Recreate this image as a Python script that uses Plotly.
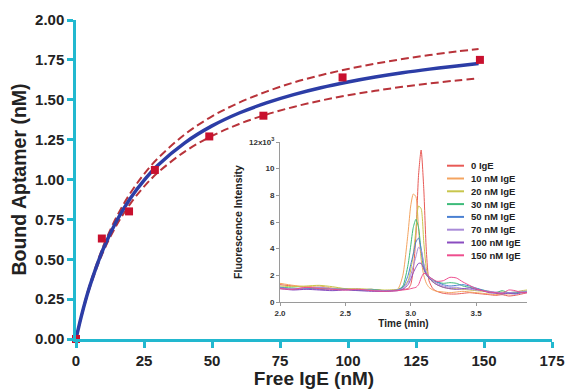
import plotly.graph_objects as go

# ---------------- main binding data ----------------
free_ige = [0, 9.5, 19.5, 29.0, 49.0, 68.9, 98.0, 148.5]
bound_aptamer = [0.0, 0.63, 0.80, 1.06, 1.27, 1.40, 1.64, 1.75]

fit_x = [0, 2, 5, 10, 15, 20, 25, 30, 40, 50, 60, 70, 80, 90, 100, 110, 120, 130, 140, 148]
fit_y = [0, 0.145, 0.327, 0.564, 0.743, 0.883, 0.995, 1.088, 1.230, 1.336, 1.417, 1.480,
         1.532, 1.575, 1.611, 1.642, 1.669, 1.692, 1.712, 1.727]
upper_y = [0, 0.148, 0.336, 0.581, 0.768, 0.915, 1.034, 1.131, 1.283, 1.396, 1.482, 1.551,
           1.608, 1.654, 1.693, 1.726, 1.755, 1.780, 1.803, 1.818]
lower_y = [0, 0.141, 0.318, 0.546, 0.716, 0.849, 0.955, 1.042, 1.175, 1.273, 1.348, 1.407,
           1.455, 1.495, 1.528, 1.556, 1.581, 1.602, 1.621, 1.634]

x_ticks = [0, 25, 50, 75, 100, 125, 150, 175]
y_ticks = [0, 0.25, 0.5, 0.75, 1.0, 1.25, 1.5, 1.75, 2.0]

# ---------------- inset chromatogram data ----------------
time_min = [2.0, 2.1, 2.2, 2.3, 2.4, 2.5, 2.6, 2.7, 2.8, 2.9, 2.94, 2.98, 3.0, 3.02, 3.04,
            3.06, 3.08, 3.1, 3.12, 3.14, 3.17, 3.2, 3.25, 3.3, 3.35, 3.4, 3.45, 3.5, 3.55,
            3.6, 3.65, 3.7, 3.75, 3.8, 3.85, 3.89]

series_names = ["0 IgE", "10 nM IgE", "20 nM IgE", "30 nM IgE", "50 nM IgE",
                "70 nM IgE", "100 nM IgE", "150 nM IgE"]
series_colors = ["#E85A56", "#F4A460", "#C8C64C", "#3DBB7A", "#4A80D2",
                 "#A98BD8", "#8A4CC0", "#EE4E8E"]

ige_0 = [1.3, 1.2, 1.1, 1.05, 1.0, 0.95, 0.9, 0.95, 0.85, 0.9, 0.95, 1.0, 1.3, 2.4, 5.0,
         9.5, 11.4, 8.5, 3.8, 1.6, 1.0, 0.8, 0.65, 0.6, 0.6, 0.65, 0.7, 0.65, 0.6,
         0.55, 0.5, 0.55, 0.45, 0.5, 0.6, 0.7]
ige_10 = [1.4, 1.25, 1.15, 1.2, 1.05, 1.0, 0.95, 0.9, 0.85, 0.95, 2.0, 5.2, 7.2, 8.1, 7.9,
          5.5, 3.2, 2.0, 1.4, 1.1, 0.9, 0.8, 0.75, 0.7, 0.75, 0.8, 0.75, 0.7, 0.65,
          0.6, 0.55, 0.6, 0.6, 0.65, 0.75, 0.8]
ige_20 = [1.2, 1.15, 1.2, 1.25, 1.15, 1.0, 1.0, 0.95, 0.9, 0.95, 1.1, 1.6, 2.4, 3.6, 5.4,
          7.2, 7.0, 4.5, 2.5, 1.8, 1.5, 1.3, 1.1, 1.0, 1.0, 0.95, 0.9, 0.85, 0.8,
          0.75, 0.7, 0.75, 0.7, 0.75, 0.85, 0.9]
ige_30 = [1.1, 1.05, 1.0, 1.05, 1.0, 0.95, 0.9, 0.95, 0.85, 0.9, 1.2, 2.8, 4.2, 5.6, 6.2,
          5.6, 3.8, 2.5, 2.0, 1.8, 1.6, 1.5, 1.4, 1.45, 1.4, 1.2, 1.1, 1.0, 0.9,
          0.8, 0.7, 0.85, 0.7, 0.7, 0.75, 0.8]
ige_50 = [1.1, 0.95, 1.0, 0.95, 0.9, 0.95, 0.9, 0.85, 0.8, 0.9, 1.1, 2.0, 2.8, 3.6, 4.5,
          4.8, 4.0, 2.8, 2.1, 1.9, 1.7, 1.5, 1.3, 1.2, 1.25, 1.3, 1.2, 1.05, 0.9,
          0.75, 0.7, 0.65, 0.7, 0.65, 0.7, 0.75]
ige_70 = [1.05, 1.0, 1.05, 1.1, 1.0, 0.95, 0.95, 0.9, 0.85, 0.9, 1.0, 1.5, 2.0, 2.7, 3.4,
          4.1, 3.9, 2.9, 2.2, 1.9, 1.6, 1.4, 1.2, 1.1, 1.1, 1.0, 0.95, 0.9, 0.85,
          0.8, 0.75, 0.7, 0.7, 0.75, 0.8, 0.8]
ige_100 = [1.0, 0.9, 0.95, 0.9, 0.85, 0.9, 0.85, 0.8, 0.8, 0.85, 0.95, 1.3, 1.7, 2.2, 2.6,
           2.9, 2.9, 2.5, 2.1, 1.8, 1.5, 1.3, 1.1, 1.0, 0.95, 1.0, 1.05, 0.95, 0.85,
           0.7, 0.65, 0.6, 0.65, 0.6, 0.7, 0.7]
ige_150 = [1.0, 0.95, 1.1, 1.0, 0.95, 0.9, 0.95, 0.85, 0.8, 0.85, 0.9, 0.95, 1.0, 1.05, 1.1,
           1.3, 1.8, 2.15, 2.1, 1.9, 1.7, 1.55, 1.6, 1.85, 1.8, 1.5, 1.25, 1.0, 0.85,
           0.75, 0.7, 0.65, 0.9, 0.85, 0.7, 0.7]
inset_series = [ige_0, ige_10, ige_20, ige_30, ige_50, ige_70, ige_100, ige_150]

inset_x_ticks = [2.0, 2.5, 3.0, 3.5]
inset_x_labels = ["2.0", "2.5", "3.0", "3.5"]
inset_y_ticks = [0, 2, 4, 6, 8, 10, 12]
inset_y_labels = ["0", "2", "4", "6", "8", "10", "12x10<sup>3</sup>"]

# ---------------- figure ----------------
W, H = 566, 389
ML, MR, MT, MB = 76, 14, 20, 50
CYAN = "#22B8CF"
FONT = "Liberation Sans, Arial, sans-serif"


def px_x(p):
    return (p - ML) / (W - ML - MR)


def px_y(p):
    return (H - MB - p) / (H - MT - MB)


fig = go.Figure()

fig.add_trace(go.Scatter(x=fit_x, y=upper_y, mode="lines", showlegend=False,
                         line=dict(color="#B8333A", width=2, dash="8px,4px", shape="spline")))
fig.add_trace(go.Scatter(x=fit_x, y=lower_y, mode="lines", showlegend=False,
                         line=dict(color="#B8333A", width=2, dash="8px,4px", shape="spline")))
fig.add_trace(go.Scatter(x=fit_x, y=fit_y, mode="lines", showlegend=False,
                         line=dict(color="#2C3DA6", width=3.5, shape="spline")))
fig.add_trace(go.Scatter(x=free_ige, y=bound_aptamer, mode="markers", showlegend=False,
                         cliponaxis=False,
                         marker=dict(symbol="square", size=8, color="#C8102E")))

for name, color, vals in zip(series_names, series_colors, inset_series):
    fig.add_trace(go.Scatter(x=time_min, y=vals, mode="lines", name=name, showlegend=False,
                             xaxis="x2", yaxis="y2",
                             line=dict(color=color, width=1, shape="spline", smoothing=0.6)))

# compact legend for the inset (plotly's own legend cannot pack entries this tightly)
leg_top = 165.7
leg_step = 12.8
for i, (name, color) in enumerate(zip(series_names, series_colors)):
    yy = px_y(leg_top + i * leg_step)
    fig.add_shape(type="line", xref="paper", yref="paper",
                  x0=px_x(447), x1=px_x(464), y0=yy, y1=yy,
                  line=dict(color=color, width=2))
    fig.add_annotation(xref="paper", yref="paper", x=px_x(469), y=yy, text="<b>%s</b>" % name,
                       showarrow=False, xanchor="left", yanchor="middle",
                       font=dict(family=FONT, size=9.5, color="#222"))

fig.update_layout(
    width=W, height=H,
    margin=dict(l=ML, r=MR, t=MT, b=MB),
    paper_bgcolor="white", plot_bgcolor="white",
    font=dict(family=FONT, color="#222"),
    xaxis=dict(range=[0, 175], tickvals=x_ticks, showgrid=False, zeroline=False,
               automargin=False,
               showline=True, linecolor=CYAN, linewidth=2.5,
               ticks="outside", ticklen=6, tickwidth=2.5, tickcolor=CYAN,
               tickfont=dict(family=FONT, size=15, color="#222", weight="bold"),
               title=dict(text="<b>Free IgE (nM)</b>", standoff=10,
                          font=dict(family=FONT, size=19, color="#222"))),
    yaxis=dict(range=[0, 2], tickvals=y_ticks, tickformat=".2f", showgrid=False, zeroline=False,
               automargin=False,
               showline=True, linecolor=CYAN, linewidth=2.5,
               ticks="outside", ticklen=6, tickwidth=2.5, tickcolor=CYAN,
               tickfont=dict(family=FONT, size=15, color="#222", weight="bold"),
               title=dict(text="<b>Bound Aptamer (nM)</b>", standoff=4,
                          font=dict(family=FONT, size=19.5, color="#222"))),
    xaxis2=dict(domain=[px_x(280), px_x(527)], anchor="y2", range=[2.0, 3.89],
                automargin=False,
                tickvals=inset_x_ticks, ticktext=inset_x_labels, showgrid=False, zeroline=False,
                showline=True, linecolor="#9A9A9A", linewidth=1,
                ticks="outside", ticklen=3, tickwidth=1, tickcolor="#9A9A9A",
                tickfont=dict(family=FONT, size=8, color="#333", weight="bold"),
                title=dict(text="<b>Time (min)</b>", standoff=2,
                           font=dict(family=FONT, size=10, color="#222"))),
    yaxis2=dict(domain=[px_y(302), px_y(142)], anchor="x2", range=[0, 12],
                automargin=False,
                tickvals=inset_y_ticks, ticktext=inset_y_labels, showgrid=False, zeroline=False,
                showline=True, linecolor="#9A9A9A", linewidth=1,
                ticks="outside", ticklen=3, tickwidth=1, tickcolor="#9A9A9A",
                tickfont=dict(family=FONT, size=8, color="#333", weight="bold"),
                title=dict(text="<b>Fluorescence Intensity</b>", standoff=4,
                           font=dict(family=FONT, size=10.5, color="#222"))),
)

fig.write_html("out.html", config={"displayModeBar": False},
               post_script="document.body.style.margin='0';document.body.style.overflow='hidden';")
